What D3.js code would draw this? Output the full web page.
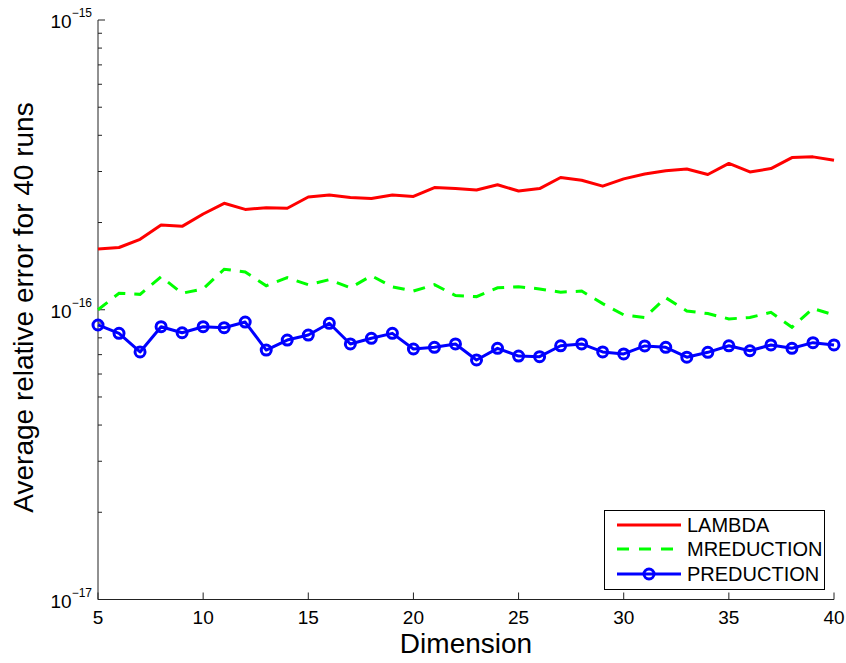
<!DOCTYPE html>
<html>
<head>
<meta charset="utf-8">
<script src="https://cdn.jsdelivr.net/npm/d3@7"></script>
<style>
  html, body { margin: 0; padding: 0; background: #fff; }
  svg { display: block; font-family: "Liberation Sans", Arial, Helvetica, sans-serif; }
</style>
</head>
<body>
<svg id="chart" width="846" height="663"></svg>
<script>
const dims = d3.range(5, 41);
const lambda = [1.62,1.64,1.75,1.96,1.94,2.14,2.33,2.22,2.25,2.24,2.45,2.49,2.44,2.42,2.49,2.46,2.64,2.62,2.59,2.70,2.57,2.62,2.86,2.80,2.67,2.83,2.94,3.02,3.06,2.93,3.20,2.99,3.07,3.35,3.37,3.28].map(v => v * 1e-16);
const mreduction = [1.00,1.14,1.13,1.30,1.14,1.18,1.38,1.35,1.21,1.29,1.22,1.27,1.19,1.31,1.20,1.16,1.22,1.12,1.11,1.19,1.20,1.18,1.15,1.16,1.05,0.96,0.94,1.10,0.99,0.97,0.93,0.94,0.98,0.87,1.01,0.96].map(v => v * 1e-16);
const preduction = [0.886,0.829,0.715,0.874,0.833,0.874,0.867,0.907,0.726,0.786,0.818,0.898,0.762,0.797,0.829,0.732,0.742,0.762,0.671,0.736,0.692,0.689,0.751,0.762,0.715,0.704,0.750,0.742,0.686,0.713,0.751,0.722,0.756,0.736,0.770,0.756].map(v => v * 1e-16);
const xTicks = [5,10,15,20,25,30,35,40];
const yMajor = [1e-17, 1e-16, 1e-15];
const yMajorLabels = ["\u221217", "\u221216", "\u221215"];
const seriesNames = ["LAMBDA", "MREDUCTION", "PREDUCTION"];
const seriesColors = ["#ff0000", "#00ff00", "#0000ff"];

const svg = d3.select("#chart");
const L = 98, R = 834, T = 20, B = 599.5;
const x = d3.scaleLinear().domain([5, 40]).range([L, R]);
const y = d3.scaleLog().domain([1e-17, 1e-15]).range([B, T]);

const yMinor = [];
[1e-17, 1e-16].forEach(d => { for (let k = 2; k <= 9; k++) yMinor.push(k * d); });

const axisColor = "#222";
const ax = svg.append("g");
ax.append("line").attr("x1", L).attr("x2", L).attr("y1", T).attr("y2", B)
  .attr("stroke", axisColor).attr("stroke-width", 1);
ax.append("line").attr("x1", L).attr("x2", R).attr("y1", B).attr("y2", B)
  .attr("stroke", axisColor).attr("stroke-width", 1);

ax.selectAll(".xt").data(xTicks).enter().append("line")
  .attr("x1", d => x(d)).attr("x2", d => x(d)).attr("y1", B).attr("y2", B - 7)
  .attr("stroke", axisColor).attr("stroke-width", 1);
ax.selectAll(".xl").data(xTicks).enter().append("text")
  .attr("x", d => x(d)).attr("y", 624).attr("text-anchor", "middle")
  .attr("font-size", 19).attr("fill", "#000").text(d => d);

ax.selectAll(".ymaj").data(yMajor).enter().append("line")
  .attr("x1", L).attr("x2", L + 7).attr("y1", d => y(d)).attr("y2", d => y(d))
  .attr("stroke", axisColor).attr("stroke-width", 1);
ax.selectAll(".ymin").data(yMinor).enter().append("line")
  .attr("x1", L).attr("x2", L + 4).attr("y1", d => y(d)).attr("y2", d => y(d))
  .attr("stroke", axisColor).attr("stroke-width", 1);
const yl = ax.selectAll(".yl").data(yMajor).enter().append("text")
  .attr("x", 92).attr("y", d => y(d) + 8).attr("text-anchor", "end")
  .attr("font-size", 19).attr("fill", "#000");
yl.append("tspan").text("10");
yl.append("tspan").attr("dy", -11).attr("font-size", 12).text((d, i) => yMajorLabels[i]);

svg.append("text").attr("x", (L + R) / 2).attr("y", 653).attr("text-anchor", "middle")
  .attr("font-size", 28).attr("fill", "#000").text("Dimension");
svg.append("text").attr("transform", "translate(33,307.5) rotate(-90)")
  .attr("text-anchor", "middle").attr("font-size", 28).attr("fill", "#000")
  .text("Average relative error for 40 runs");

const line = d3.line().x((d, i) => x(dims[i])).y(d => y(d));
const plot = svg.append("g");
plot.append("path").datum(lambda).attr("d", line).attr("fill", "none")
  .attr("stroke", seriesColors[0]).attr("stroke-width", 3).attr("stroke-linejoin", "round");
plot.append("path").datum(mreduction).attr("d", line).attr("fill", "none")
  .attr("stroke", seriesColors[1]).attr("stroke-width", 3).attr("stroke-dasharray", "12,9");
plot.append("path").datum(preduction).attr("d", line).attr("fill", "none")
  .attr("stroke", seriesColors[2]).attr("stroke-width", 3).attr("stroke-linejoin", "round");
plot.selectAll(".pm").data(preduction).enter().append("circle")
  .attr("cx", (d, i) => x(dims[i])).attr("cy", d => y(d)).attr("r", 5)
  .attr("fill", "none").attr("stroke", seriesColors[2]).attr("stroke-width", 3);

const lg = svg.append("g");
lg.append("rect").attr("x", 604.5).attr("y", 510.5).attr("width", 220).attr("height", 79)
  .attr("fill", "#fff").attr("stroke", "#000").attr("stroke-width", 1);
const rowsY = [525, 549, 574];
seriesNames.forEach((name, i) => {
  const ln = lg.append("line").attr("x1", 617).attr("x2", 681).attr("y1", rowsY[i]).attr("y2", rowsY[i])
    .attr("stroke", seriesColors[i]).attr("stroke-width", 3);
  if (i === 1) ln.attr("stroke-dasharray", "12,10");
  if (i === 2) lg.append("circle").attr("cx", 649).attr("cy", rowsY[i]).attr("r", 5)
    .attr("fill", "none").attr("stroke", seriesColors[i]).attr("stroke-width", 3);
  lg.append("text").attr("x", 687).attr("y", rowsY[i] + 7).attr("font-size", 20)
    .attr("fill", "#000").text(name);
});
</script>
</body>
</html>
